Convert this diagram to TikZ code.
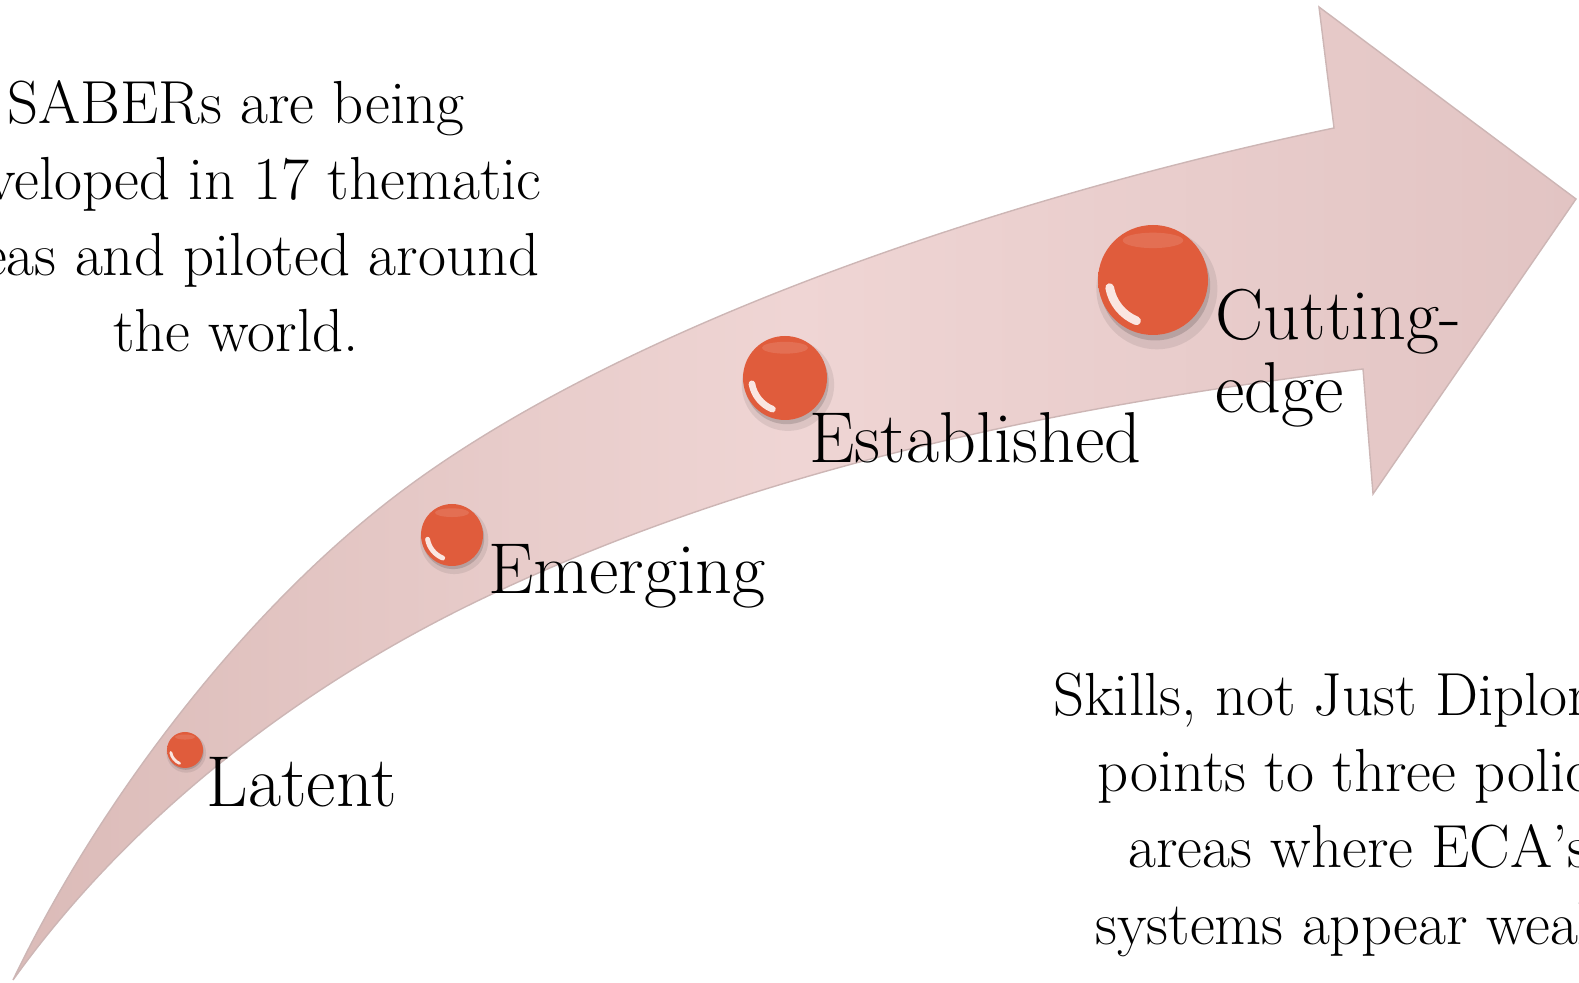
\documentclass[tikz,border=0pt]{standalone}
\usepackage{fontspec}
\usepackage{xcolor}
\definecolor{arrowtail}{HTML}{DBBBB8}
\definecolor{arrowmid}{HTML}{EFD5D4}
\definecolor{arrowtip}{HTML}{E2C4C3}
\definecolor{arrowline}{HTML}{CDB6B5}
\definecolor{ballcore}{HTML}{E05C3C}
\definecolor{balledge}{HTML}{BD4A31}
\definecolor{ballrim}{HTML}{8C3B2C}
\pgfdeclareradialshading{ballshade}{\pgfpoint{0bp}{0bp}}{color(0bp)=(ballcore); color(28bp)=(ballcore); color(45bp)=(balledge); color(50bp)=(ballrim)}

\begin{document}
\begin{tikzpicture}[x=0.01cm,y=-0.01cm,
    blurb/.style={align=center,anchor=base,font=\fontsize{17.3}{21.7}\selectfont},
    stage/.style={anchor=base west,inner sep=0pt,font=\fontsize{20.5}{20.8}\selectfont}]
    \useasboundingbox (0,0) rectangle (1579,983);
    \clip (0,0) rectangle (1579,983);
    \shade[left color=arrowtail,right color=arrowtip,middle color=arrowmid,draw=arrowline,line width=.4pt]
      (13,980) .. controls (95,809) and (232,626) .. (380,508)
      .. controls (600,332) and (999,198) .. (1334,128)
      -- (1319,7) -- (1576,199) -- (1373,494) -- (1363,369)
      .. controls (1065,405) and (761,467) .. (490,595)
      .. controls (305,682) and (132,814) .. (13,980) -- cycle;
    \foreach \bx/\by/\br in {185/750/18,452/535/31,785/378/42,1153/280/55}{
      \fill[black,opacity=.08] (\bx+.07*\br,\by+.16*\br) circle (1.1*\br);
      \fill[black,opacity=.14] (\bx+.04*\br,\by+.1*\br) circle (\br);
      \shade[shading=ballshade] (\bx,\by) circle (\br);
      \fill[white,opacity=.12] (\bx,\by-.72*\br) ellipse [x radius=.55*\br,y radius=.14*\br];
      \draw[white,opacity=.85,line cap=round,line width=0.045pt*\br]
        (\bx,\by) ++(170:.8*\br) arc[start angle=170,end angle=112,radius=.8*\br];
    }
    \node[stage] (latent) at (206,807) {Latent};
    \node[stage] (emerging) at (488,594) {Emerging};
    \node[stage] (established) at (809,463) {Established};
    \node[stage,align=left] (cutting) at (1215,413) {Cutting-\\edge};
    \node[blurb] (sabers) at (236,352) {SABERs are being\\developed in 17 thematic\\areas and piloted around\\the world.};
    \node[blurb] (skills) at (1359,944) {Skills, not Just Diplomas\\points to three policy\\areas where ECA’s\\systems appear weak.};
\end{tikzpicture}
\end{document}
